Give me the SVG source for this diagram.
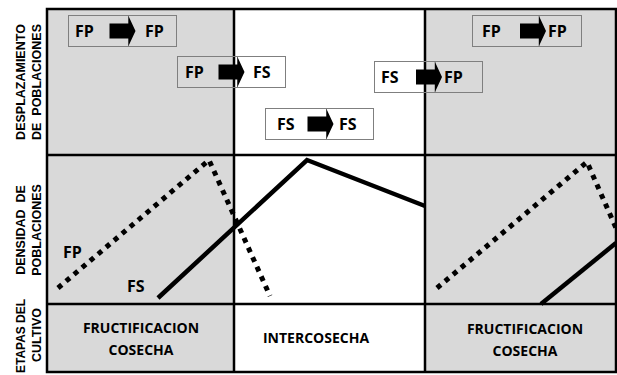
<svg xmlns="http://www.w3.org/2000/svg" width="617" height="375" viewBox="0 0 617 375">
  <style>
    .shade { fill: #d9d9d9; }
    .grid { fill: none; stroke: #000; stroke-width: 2.5; }
    .box { fill: none; stroke: #7f7f7f; stroke-width: 1; }
    .lbl { font-family: "Open Sans", "Liberation Sans", sans-serif; font-weight: 700; font-size: 16px; fill: #000; }
    .stage { font-family: "Open Sans", "Liberation Sans", sans-serif; font-weight: 700; font-size: 14px; fill: #000; text-anchor: middle; }
    .axis { font-family: "Liberation Sans", Arial, sans-serif; font-weight: 700; font-size: 12.5px; fill: #000; text-anchor: middle; }
    .fp { fill: none; stroke: #000; stroke-width: 5; stroke-dasharray: 5 5.5; }
    .fs { fill: none; stroke: #000; stroke-width: 4.5; }
  </style>
  <defs>
    <!-- block arrow: divider at x=0, centred on y=0 -->
    <path id="arrow" d="M-19,-7.5 H0 V-15 L7,0 L0,15 V7.5 H-19 Z" fill="#000"/>
  </defs>

  <!-- background bands -->
  <rect x="0" y="0" width="617" height="375" fill="#fff"/>
  <rect class="shade" x="47" y="9" width="187" height="363"/>
  <rect class="shade" x="425" y="9" width="191" height="363"/>

  <!-- grid -->
  <g id="grid">
    <rect class="grid" x="47" y="9" width="569" height="363"/>
    <line class="grid" x1="234" y1="9" x2="234" y2="372"/>
    <line class="grid" x1="425" y1="9" x2="425" y2="372"/>
    <line class="grid" x1="47" y1="155" x2="616" y2="155"/>
    <line class="grid" x1="47" y1="304" x2="616" y2="304"/>
  </g>

  <!-- row titles -->
  <g id="row-titles">
    <text class="axis" transform="translate(25,82) rotate(-90)">DESPLAZAMIENTO</text>
    <text class="axis" transform="translate(41,82) rotate(-90)" xml:space="preserve">DE  POBLACIONES</text>
    <text class="axis" transform="translate(25,230) rotate(-90)" xml:space="preserve">DENSIDAD  DE</text>
    <text class="axis" transform="translate(41,230) rotate(-90)">POBLACIONES</text>
    <text class="axis" transform="translate(25,336) rotate(-90)" textLength="74" lengthAdjust="spacingAndGlyphs">ETAPAS DEL</text>
    <text class="axis" transform="translate(41,335) rotate(-90)">CULTIVO</text>
  </g>

  <!-- displacement boxes -->
  <g id="move-fp-fp-1">
    <rect class="box" x="68.5" y="15.5" width="108" height="31"/>
    <line class="box" x1="128.5" y1="15.5" x2="128.5" y2="46.5"/>
    <use href="#arrow" x="128.5" y="31"/>
    <text class="lbl" x="75" y="37">FP</text>
    <text class="lbl" x="145" y="37">FP</text>
  </g>
  <g id="move-fp-fs">
    <rect class="box" x="177.5" y="56.5" width="108" height="31"/>
    <line class="box" x1="237.5" y1="56.5" x2="237.5" y2="87.5"/>
    <use href="#arrow" x="237.5" y="72"/>
    <text class="lbl" x="185" y="78">FP</text>
    <text class="lbl" x="253" y="78">FS</text>
  </g>
  <g id="move-fs-fs">
    <rect class="box" x="265.5" y="108.5" width="108" height="31"/>
    <line class="box" x1="326.5" y1="108.5" x2="326.5" y2="139.5"/>
    <use href="#arrow" x="326.5" y="124"/>
    <text class="lbl" x="277" y="130">FS</text>
    <text class="lbl" x="339" y="130">FS</text>
  </g>
  <g id="move-fs-fp">
    <rect class="box" x="374.5" y="61.5" width="108" height="31"/>
    <line class="box" x1="435" y1="61.5" x2="435" y2="92.5"/>
    <use href="#arrow" x="435" y="77"/>
    <text class="lbl" x="381" y="83">FS</text>
    <text class="lbl" x="444" y="83">FP</text>
  </g>
  <g id="move-fp-fp-2">
    <rect class="box" x="472.5" y="15.5" width="109" height="31"/>
    <line class="box" x1="539" y1="15.5" x2="539" y2="46.5"/>
    <use href="#arrow" x="539" y="31"/>
    <text class="lbl" x="482" y="37">FP</text>
    <text class="lbl" x="548" y="37">FP</text>
  </g>

  <!-- density curves -->
  <g id="curves">
    <polyline class="fp" points="58,288 209,160 270,296"/>
    <polyline class="fs" points="158,298 307,160 425,206"/>
    <polyline class="fp" points="437,288 587,162 616,228"/>
    <polyline class="fs" points="541,304 616,243"/>
  </g>
  <g id="curve-labels">
    <text class="lbl" x="63" y="258">FP</text>
    <text class="lbl" x="127" y="292">FS</text>
  </g>

  <!-- crop stages -->
  <g id="stage-1">
    <text class="stage" x="141" y="333">FRUCTIFICACION</text>
    <text class="stage" x="141" y="355">COSECHA</text>
  </g>
  <g id="stage-2">
    <text class="stage" x="316" y="343">INTERCOSECHA</text>
  </g>
  <g id="stage-3">
    <text class="stage" x="525" y="334">FRUCTIFICACION</text>
    <text class="stage" x="525" y="356">COSECHA</text>
  </g>
</svg>
